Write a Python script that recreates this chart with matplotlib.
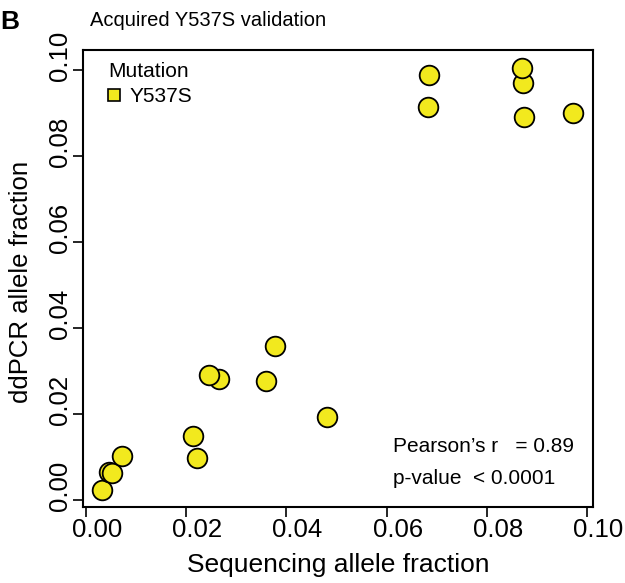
import numpy as np
import matplotlib
matplotlib.use("Agg")
import matplotlib.pyplot as plt
from matplotlib.transforms import ScaledTranslation
from matplotlib.lines import Line2D

plt.rcParams['font.family'] = ['Liberation Sans', 'DejaVu Sans']

# values
seq_af = [0.0032, 0.0045, 0.0052, 0.0072, 0.0222, 0.0214, 0.0265, 0.0246, 0.0359,
          0.0377, 0.0481, 0.0683, 0.0685, 0.0874, 0.0872, 0.0870, 0.0972]
ddpcr_af = [0.0023, 0.0065, 0.0063, 0.0102, 0.0098, 0.0149, 0.0281, 0.0291, 0.0277,
            0.0358, 0.0193, 0.0914, 0.0988, 0.0891, 0.0970, 0.1005, 0.0900]
ticks = [0.00, 0.02, 0.04, 0.06, 0.08, 0.10]
tick_labels = ["0.00", "0.02", "0.04", "0.06", "0.08", "0.10"]
pearson_r = "0.89"
p_value = "< 0.0001"

yellow = '#F2E91E'

fig = plt.figure(figsize=(6.25, 5.83), dpi=100)
ax = fig.add_axes([83 / 625, 76 / 583, 510 / 625, 457 / 583])

ax.scatter(seq_af, ddpcr_af, s=200, c=yellow, edgecolors='black', linewidths=1.3, zorder=3)

ax.set_xlim(-0.0006, 0.1012)
ax.set_ylim(-0.0016, 0.1047)
ax.set_xticks(ticks)
ax.set_xticklabels(tick_labels)
ax.set_yticks(ticks)
ax.set_yticklabels(tick_labels, rotation=90, va='center')
ax.tick_params(axis='both', direction='out', length=7, width=1.2, labelsize=18.5, pad=1)
for sp in ax.spines.values():
    sp.set_linewidth(1.5)

# tick labels sit a little off their ticks in the original
for lab in ax.get_xticklabels():
    lab.set_transform(lab.get_transform() + ScaledTranslation(0.11, 0, fig.dpi_scale_trans))
for lab in ax.get_yticklabels():
    lab.set_transform(lab.get_transform() + ScaledTranslation(0, 0.14, fig.dpi_scale_trans))

ax.set_xlabel("Sequencing allele fraction", fontsize=19, va='center')
ax.xaxis.set_label_coords(0.5, -0.127)
ax.set_ylabel("ddPCR allele fraction", fontsize=18.5, va='center')
ax.yaxis.set_label_coords(-0.1225, 0.492)

handle = Line2D([], [], marker='s', linestyle='none', markersize=8,
                markerfacecolor=yellow, markeredgecolor='black', markeredgewidth=1.2)
leg = ax.legend([handle], ["Y537S"], title="Mutation", loc='upper left',
                bbox_to_anchor=(0.02, 1.005), frameon=False, fontsize=15,
                title_fontsize=15, handletextpad=0.45, borderpad=0.2,
                handlelength=0.6, labelspacing=0.1)
leg._legend_box.align = 'left'
leg._legend_box.sep = 4

ax.text(0.608, 0.1325, "Pearson\u2019s r   = " + pearson_r, transform=ax.transAxes,
        fontsize=15, va='center', ha='left')
ax.text(0.608, 0.063, "p-value  " + p_value, transform=ax.transAxes,
        fontsize=15, va='center', ha='left')

fig.text(90 / 625, 1 - 21 / 583, "Acquired Y537S validation", fontsize=14.5,
         va='center', ha='left')
fig.text(0.0, 1 - 22 / 583, "B", fontsize=19, fontweight='bold',
         va='center', ha='left')

fig.savefig("out.png", dpi=100)
